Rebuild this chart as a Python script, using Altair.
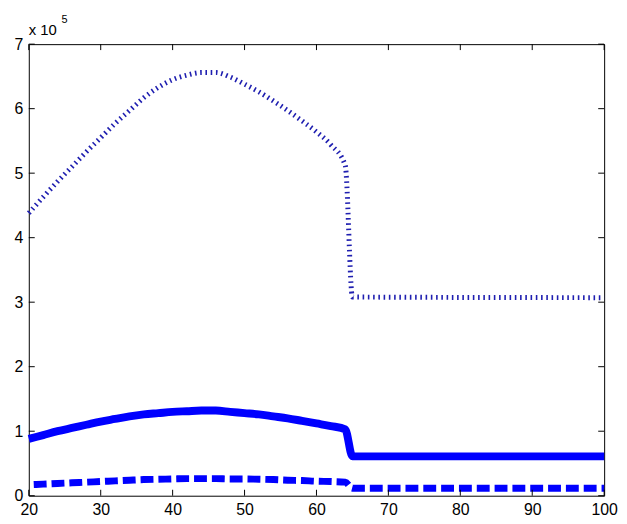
import altair as alt
import pandas as pd

# x positions (common to all series)
x_vals = [20, 22, 24, 26, 28, 30, 32, 34, 36, 38, 40, 42, 44, 46, 48, 50,
          52, 54, 56, 58, 60, 62, 64, 65, 100]

# series values in units of 1e5
dotted_vals = [4.38, 4.63, 4.87, 5.10, 5.33, 5.55, 5.77, 5.97, 6.17, 6.33, 6.45,
               6.52, 6.56, 6.56, 6.49, 6.38, 6.26, 6.12, 5.97, 5.81, 5.64, 5.44,
               5.12, 3.08, 3.07]
solid_vals = [0.88, 0.94, 1.00, 1.05, 1.10, 1.15, 1.19, 1.23, 1.26, 1.28, 1.30,
              1.31, 1.32, 1.32, 1.30, 1.28, 1.26, 1.23, 1.20, 1.16, 1.12, 1.08,
              1.03, 0.61, 0.61]
dashed_vals = [0.17, 0.18, 0.19, 0.20, 0.21, 0.22, 0.23, 0.24, 0.25, 0.255, 0.26,
               0.265, 0.265, 0.265, 0.26, 0.26, 0.255, 0.25, 0.24, 0.235, 0.225,
               0.22, 0.21, 0.115, 0.115]

x_ticks = [20, 30, 40, 50, 60, 70, 80, 90, 100]
y_ticks = [0, 100000, 200000, 300000, 400000, 500000, 600000, 700000]

W, H = 581, 456
FONT = "Liberation Sans"

scale = 100000
df = pd.DataFrame({
    "x": x_vals,
    "dotted": [v * scale for v in dotted_vals],
    "solid": [v * scale for v in solid_vals],
    "dashed": [v * scale for v in dashed_vals],
})
xt = pd.DataFrame({"t": x_ticks})
yt = pd.DataFrame({"v": y_ticks})

xs = alt.Scale(domain=[20, 100], nice=False, zero=False)
ys = alt.Scale(domain=[0, 700000], nice=False)

x_axis = alt.Axis(values=x_ticks, ticks=False, domain=False, grid=False,
                  labelFont=FONT, labelFontSize=16, labelColor="black",
                  labelPadding=6, labelFlush=False, labelOverlap=False,
                  title=None)
y_axis = alt.Axis(values=y_ticks, ticks=False, domain=False, grid=False,
                  labelFont=FONT, labelFontSize=16, labelColor="black",
                  labelPadding=6, labelFlush=False, labelOverlap=False,
                  title=None,
                  labelExpr="format(datum.value / 100000, 'd')")

base = alt.Chart(df)

axes_layer = base.mark_line(opacity=0).encode(
    x=alt.X("x:Q", scale=xs, axis=x_axis),
    y=alt.Y("solid:Q", scale=ys, axis=y_axis),
)

dotted = base.mark_line(color="#1f1fb0", strokeWidth=5, strokeDash=[1.6, 3.7],
                        interpolate="monotone").encode(
    x=alt.X("x:Q", scale=xs), y=alt.Y("dotted:Q", scale=ys))
solid = base.mark_line(color="#0000ff", strokeWidth=8,
                       interpolate="monotone").encode(
    x=alt.X("x:Q", scale=xs), y=alt.Y("solid:Q", scale=ys))
dashed = base.mark_line(color="#0000ff", strokeWidth=7, strokeDash=[13, 5],
                        strokeDashOffset=13, interpolate="monotone").encode(
    x=alt.X("x:Q", scale=xs), y=alt.Y("dashed:Q", scale=ys))

tick_len = 6
xt_bottom = alt.Chart(xt).mark_rule(color="black", strokeWidth=1).encode(
    x=alt.X("t:Q", scale=xs), y=alt.value(H), y2=alt.value(H - tick_len))
xt_top = alt.Chart(xt).mark_rule(color="black", strokeWidth=1).encode(
    x=alt.X("t:Q", scale=xs), y=alt.value(0), y2=alt.value(tick_len))
yt_left = alt.Chart(yt).mark_rule(color="black", strokeWidth=1).encode(
    y=alt.Y("v:Q", scale=ys), x=alt.value(0), x2=alt.value(tick_len))
yt_right = alt.Chart(yt).mark_rule(color="black", strokeWidth=1).encode(
    y=alt.Y("v:Q", scale=ys), x=alt.value(W), x2=alt.value(W - tick_len))

exp_df = pd.DataFrame({"a": ["x 10"], "b": ["5"]})
exp_main = alt.Chart(exp_df).mark_text(
    font=FONT, fontSize=15, align="left", baseline="alphabetic", color="black"
).encode(text="a:N", x=alt.value(0), y=alt.value(-9))
exp_sup = alt.Chart(exp_df).mark_text(
    font=FONT, fontSize=11, align="left", baseline="alphabetic", color="black"
).encode(text="b:N", x=alt.value(33), y=alt.value(-21))

chart = alt.layer(
    axes_layer, dotted, solid, dashed,
    xt_bottom, xt_top, yt_left, yt_right, exp_main, exp_sup
).properties(
    width=W, height=H,
    autosize=alt.AutoSizeParams(type="none"),
    padding={"left": 21, "top": 34, "right": 15, "bottom": 20},
    background="white",
).configure_view(stroke="black", strokeWidth=1)

chart.save("out.html", embed_options={"renderer": "svg", "actions": False})
